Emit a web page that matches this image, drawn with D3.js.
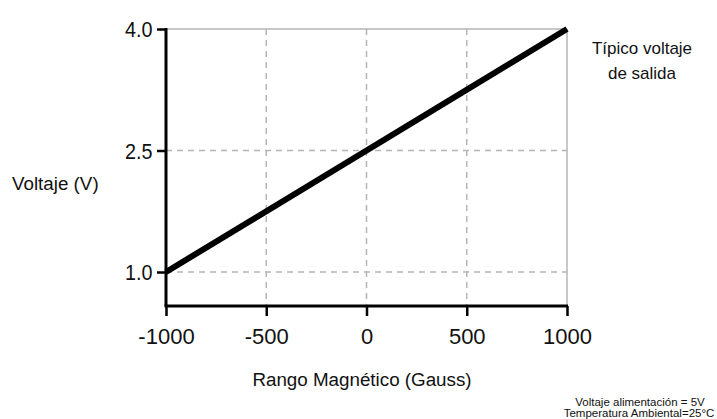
<!DOCTYPE html>
<html>
<head>
<meta charset="utf-8">
<script src="https://cdn.jsdelivr.net/npm/d3@7"></script>
<style>
  body { margin: 0; background: #fff; }
  text { font-family: "Liberation Sans", Arial, sans-serif; fill: #111; }
</style>
</head>
<body>
<svg id="chart" width="717" height="419"></svg>
<script>
// data
const gauss = [-1000, 1000];
const volts = [1.0, 4.0];
const xTicks = [-1000, -500, 0, 500, 1000];
const yTicks = [1.0, 2.5, 4.0];

const svg = d3.select('#chart');

const x = d3.scaleLinear().domain([-1000, 1000]).range([166, 567]);
const y = d3.scaleLinear().domain([1, 4]).range([272, 29]);
const axisY = 306;

// grid
const grid = svg.append('g');
xTicks.slice(1).forEach(t => {
	grid.append('line')
		.attr('x1', x(t)).attr('x2', x(t))
		.attr('y1', y(4)).attr('y2', axisY)
		.attr('stroke', '#b5b5b5')
		.attr('stroke-width', 1.5)
		.attr('stroke-dasharray', t === 1000 ? null : '6,5');
});
yTicks.forEach(t => {
	grid.append('line')
		.attr('x1', x(-1000)).attr('x2', x(1000))
		.attr('y1', y(t)).attr('y2', y(t))
		.attr('stroke', '#b5b5b5')
		.attr('stroke-width', 1.5)
		.attr('stroke-dasharray', t === 4 ? null : '6,5');
});

// left axis
const yAxis = d3.axisLeft(y).tickValues(yTicks).tickFormat(d3.format('.1f')).tickSize(9).tickPadding(4);
const gy = svg.append('g').attr('transform', `translate(${x(-1000)},0)`).call(yAxis);
gy.select('.domain').remove();
gy.append('line')
	.attr('x1', 0).attr('x2', 0)
	.attr('y1', y(4) - 1).attr('y2', axisY)
	.attr('stroke', '#000').attr('stroke-width', 3);
gy.selectAll('.tick line').attr('stroke', '#000').attr('stroke-width', 2.5);
gy.selectAll('.tick text').style('font-size', '22px').attr('fill', '#111')
	.attr('transform', 'scale(0.9,1)').attr('x', -15).attr('dy', '0.35em');

// bottom axis
const xAxis = d3.axisBottom(x).tickValues(xTicks).tickFormat(d => String(d)).tickSize(10).tickPadding(12);
const gx = svg.append('g').attr('transform', `translate(0,${axisY})`).call(xAxis);
gx.select('.domain').remove();
gx.append('line')
	.attr('x1', x(-1000) - 1.5).attr('x2', x(1000) + 1)
	.attr('y1', 0).attr('y2', 0)
	.attr('stroke', '#000').attr('stroke-width', 3);
gx.selectAll('.tick line').attr('stroke', '#000').attr('stroke-width', 2.5);
gx.selectAll('.tick text').style('font-size', '22px').attr('fill', '#111');

// data line
const line = d3.line().x((d, i) => x(gauss[i])).y(d => y(d));
svg.append('path')
	.datum(volts)
	.attr('d', line)
	.attr('fill', 'none')
	.attr('stroke', '#000')
	.attr('stroke-width', 6);

// labels
svg.append('text').attr('x', 362).attr('y', 386).attr('text-anchor', 'middle')
	.style('font-size', '18.8px').text('Rango Magnético (Gauss)');
svg.append('text').attr('x', 12).attr('y', 190)
	.style('font-size', '18.8px').text('Voltaje (V)');
svg.append('text').attr('x', 642).attr('y', 54).attr('text-anchor', 'middle')
	.style('font-size', '17px').text('Típico voltaje');
svg.append('text').attr('x', 642).attr('y', 79).attr('text-anchor', 'middle')
	.style('font-size', '17px').text('de salida');
svg.append('text').attr('x', 640).attr('y', 406).attr('text-anchor', 'middle')
	.style('font-size', '11.5px').text('Voltaje alimentación = 5V');
svg.append('text').attr('x', 639).attr('y', 417).attr('text-anchor', 'middle')
	.style('font-size', '11.5px').text('Temperatura Ambiental=25°C');
</script>
</body>
</html>
